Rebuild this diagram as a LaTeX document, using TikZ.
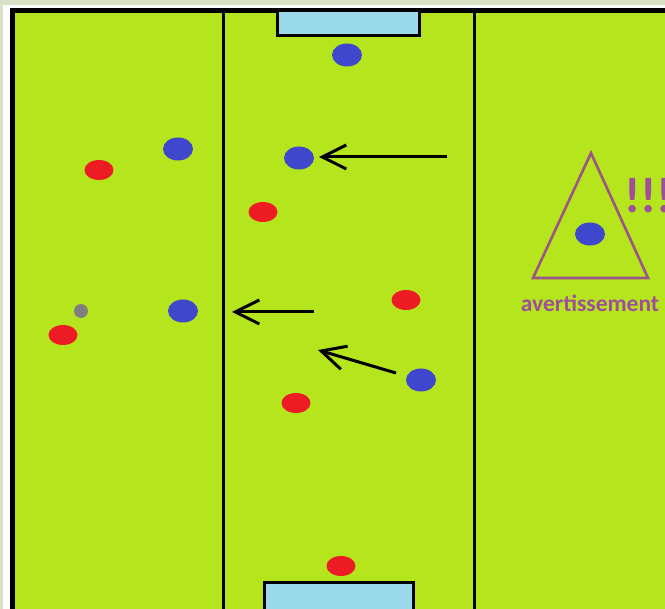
\documentclass[tikz,border=0pt]{standalone}
\usepackage{fontspec}
\setmainfont{Carlito}
\usetikzlibrary{shapes.geometric,arrows.meta}
\definecolor{outerbg}{RGB}{217,226,198}
\definecolor{fieldgreen}{RGB}{181,230,29}
\definecolor{pblue}{RGB}{63,72,204}
\definecolor{pred}{RGB}{237,28,36}
\definecolor{goalblue}{RGB}{153,217,234}
\definecolor{pgrey}{RGB}{127,127,127}
\definecolor{warnline}{RGB}{155,85,135}
\definecolor{warntext}{RGB}{160,78,155}
\tikzset{
  blueplayer/.style={ellipse, fill=pblue, minimum width=30pt, minimum height=23pt, inner sep=0pt},
  redplayer/.style={ellipse, fill=pred, minimum width=29pt, minimum height=20pt, inner sep=0pt},
  ballnode/.style={circle, fill=pgrey, minimum size=14pt, inner sep=0pt},
  goalbox/.style={draw=black, fill=goalblue, line width=3pt},
  runarrow/.style={draw=black, line width=3pt, -{Straight Barb[length=24pt,width=24pt]}},
}
\begin{document}
\begin{tikzpicture}[x=1pt,y=-1pt]
\useasboundingbox (0,0) rectangle (665,609);
\clip (0,0) rectangle (665,609);
% backgrounds
\fill[outerbg] (0,0) rectangle (665,609);
\fill[white] (3,5) rectangle (665,609);
\fill[black] (10,8) rectangle (665,609);
\fill[fieldgreen] (15,13) rectangle (665,609);
% vertical lines
\draw[line width=3pt] (223.5,13) -- (223.5,609);
\draw[line width=3pt] (474,13) -- (474,609);
% goals
\draw[goalbox] (277.5,11) rectangle (419.5,36);
\draw[goalbox] (264.5,582.5) rectangle (413.5,615);
% players
\node[blueplayer] (b1) at (347,55) {};
\node[blueplayer] (b2) at (178,149) {};
\node[blueplayer] (b3) at (299,158) {};
\node[blueplayer] (b4) at (183,311) {};
\node[blueplayer] (b5) at (421,380) {};
\node[redplayer] (r1) at (99,170) {};
\node[redplayer] (r2) at (263,212) {};
\node[redplayer] (r3) at (63,335) {};
\node[redplayer] (r4) at (406,300) {};
\node[redplayer] (r5) at (296,403) {};
\node[redplayer] (r6) at (341,566) {};
\node[ballnode] (ball) at (81,311) {};
% arrows
\coordinate (a1s) at (447,157);
\coordinate (a1e) at (319,157);
\coordinate (a2s) at (314,312);
\coordinate (a2e) at (232,312);
\coordinate (a3s) at (396,373);
\coordinate (a3e) at (318,350);
\draw[runarrow] (a1s) -- (a1e);
\draw[runarrow] (a2s) -- (a2e);
\draw[runarrow] (a3s) -- (a3e);
% warning triangle
\coordinate (tA) at (591,153);
\coordinate (tB) at (533,278);
\coordinate (tC) at (648,278);
\draw[warnline, line width=2.6pt, line join=miter] (tA) -- (tB) -- (tC) -- cycle;
\node[blueplayer] (b6) at (590,234) {};
\node[anchor=base west, inner sep=0pt, text=warntext, font=\fontsize{50}{50}\selectfont\bfseries] (excl) at (624,213) {!!!};
\node[anchor=base, inner sep=0pt, text=warntext, font=\fontsize{23.5}{23.5}\selectfont\bfseries] (warn) at (590,312) {avertissement};
\end{tikzpicture}
\end{document}
